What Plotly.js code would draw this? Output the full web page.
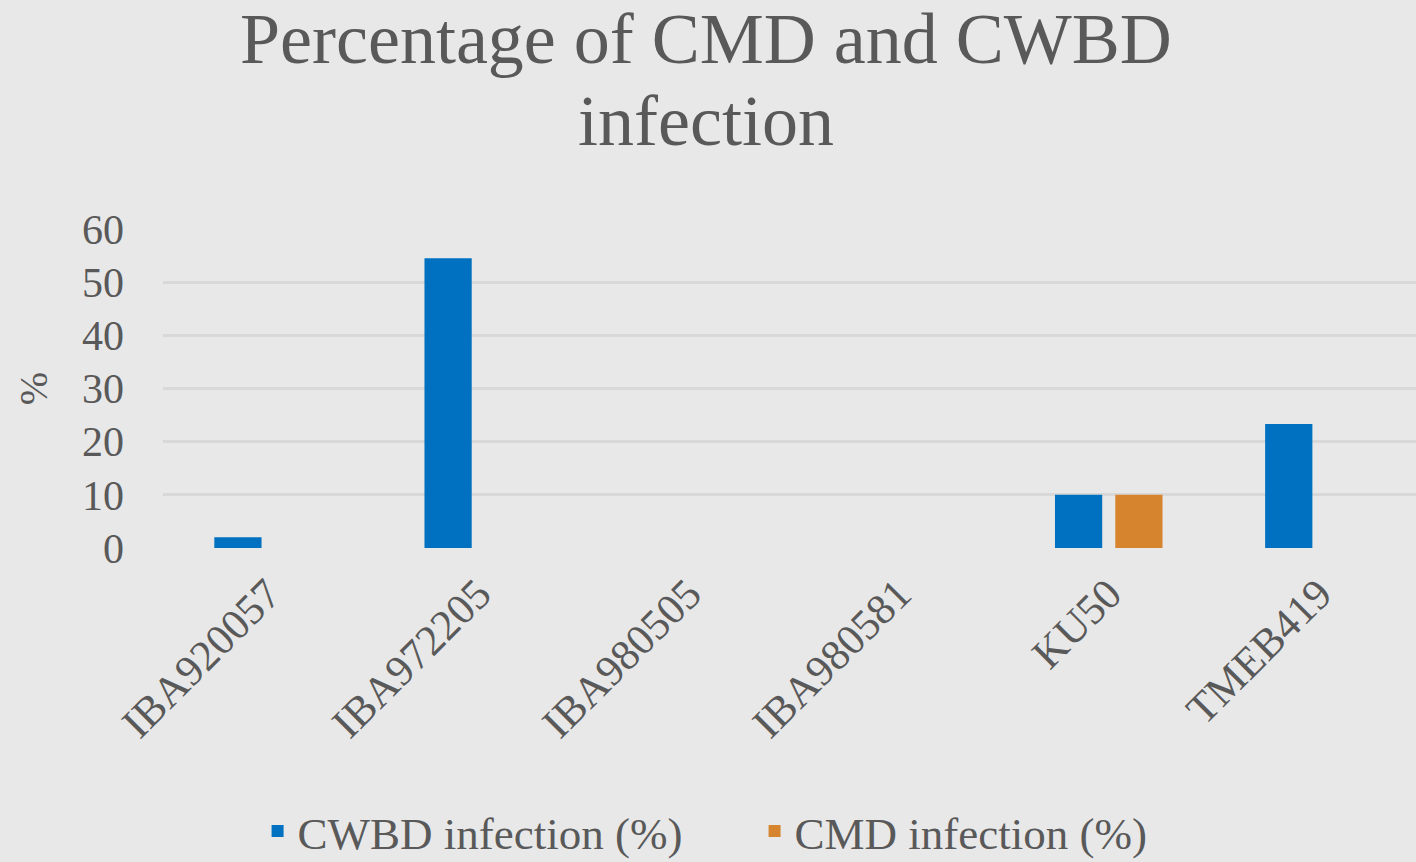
<!DOCTYPE html>
<html><head><meta charset="utf-8">
<script src="https://cdn.plot.ly/plotly-3.0.1.min.js"></script>
<style>html,body{margin:0;padding:0;background:#e8e8e8;overflow:hidden;width:1416px;height:862px;}#chart{width:1424px;height:900px;}</style>
</head><body><div id="chart"></div>
<script>
const categories = ["IBA920057","IBA972205","IBA980505","IBA980581","KU50","TMEB419"];
const cwbd = [2, 54.5, 0, 0, 10, 23.3];
const cmd = [0, 0, 0, 0, 10, 0];
const seriesNames = ["CWBD infection (%)", "CMD infection (%)"];
const yTicks = [0,10,20,30,40,50,60];
const titleLines = ["Percentage of CMD and CWBD", "infection"];

const font = "'Liberation Serif', 'DejaVu Serif', serif";
const textColor = "#595959";

const data = [
  {type:"bar", x:categories, y:cwbd, name:seriesNames[0], marker:{color:"#0070C0"}},
  {type:"bar", x:categories, y:cmd, name:seriesNames[1], marker:{color:"#D6842E"}}
];
const titleY = [1.597, 1.338];
const layout = {
  width:1424, height:900,
  paper_bgcolor:"#e8e8e8", plot_bgcolor:"#e8e8e8",
  margin:{l:163, r:0, t:229, b:352},
  font:{family:font, color:textColor},
  annotations:titleLines.map((t,i)=>({text:t, xref:"paper", yref:"paper", x:0.431, y:titleY[i],
                xanchor:"center", yanchor:"middle", showarrow:false,
                font:{size:72, family:font, color:textColor}})),
  barmode:"group", bargap:0.426, bargroupgap:0.217,
  xaxis:{tickangle:-45, tickfont:{size:43, family:font, color:textColor}, showline:false, ticks:"", showgrid:false,
         ticklabelstandoff:11, automargin:false},
  yaxis:{range:[0,60], tickvals:yTicks, tickfont:{size:42, family:font, color:textColor},
         gridcolor:"#d8d8d8", gridwidth:3, zeroline:false, showline:false, ticks:"", ticklen:0,
         ticklabelstandoff:38, automargin:false,
         title:{text:"%", font:{size:40, family:font, color:textColor}, standoff:22}},
  legend:{orientation:"h", x:0.075, xanchor:"left", y:-0.888, yanchor:"middle",
          font:{size:45, family:font, color:textColor}, bgcolor:"rgba(0,0,0,0)", itemwidth:30,
          entrywidth:452, entrywidthmode:"pixels"},
  showlegend:true
};
Plotly.newPlot("chart", data, layout, {staticPlot:true});
</script></body></html>
